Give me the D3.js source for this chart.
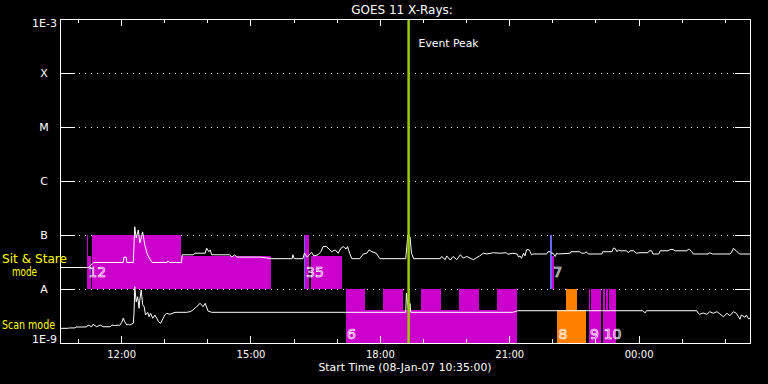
<!DOCTYPE html>
<html>
<head>
<meta charset="utf-8">
<script src="https://cdn.jsdelivr.net/npm/d3@7"></script>
<style>
  html, body { margin: 0; padding: 0; background: #000; }
  svg { display: block; }
  text { font-family: "DejaVu Sans", sans-serif; }
</style>
</head>
<body>
<svg id="chart" width="768" height="384"></svg>
<script>
// GOES 11 light curve, sit & stare vs scan mode
const chartTitle = 'GOES 11 X-Rays:';
const startLabel = 'Start Time (08-Jan-07 10:35:00)';
const timeStart = '10:35';
const timeEnd = '02:35';
const eventPeak = '18:40';

const levelNames = ['1E-3', 'X', 'M', 'C', 'B', 'A', '1E-9'];
const levelValues = [1e-3, 1e-4, 1e-5, 1e-6, 1e-7, 1e-8, 1e-9];

// lower edge of each band (flux)
const sitStareBase = 1e-8;
const scanBase = 1e-9;

// [time, flux]
const sitStareFlux = [
  ['10:35', 2.5e-8], ['11:14', 2.5e-8], ['11:15', 2.5e-8], ['11:22', 3.1e-8], ['12:03', 3.1e-8],
  ['12:04', 3.9e-8], ['12:07', 3.9e-8], ['12:08', 3.1e-8], ['12:17', 3.1e-8], ['12:19', 1.42e-7],
  ['12:21', 8.8e-8], ['12:24', 1.24e-7], ['12:26', 7.1e-8], ['12:28', 8.8e-8], ['12:30', 1.14e-7],
  ['12:33', 6.5e-8], ['12:36', 4.6e-8], ['12:39', 3.75e-8], ['12:43', 3.1e-8], ['13:04', 3.1e-8],
  ['13:05', 3.3e-8], ['13:07', 3.1e-8], ['13:24', 3.1e-8], ['13:25', 4.3e-8], ['13:40', 4.3e-8],
  ['13:43', 4.6e-8], ['13:57', 4.6e-8], ['13:59', 5.7e-8], ['14:02', 4.9e-8], ['14:04', 5.3e-8],
  ['14:06', 4.3e-8], ['14:31', 4.3e-8], ['14:34', 3.9e-8], ['14:38', 4.3e-8], ['14:41', 3.9e-8],
  ['15:13', 3.9e-8], ['15:30', 3.64e-8], ['15:58', 3.64e-8], ['15:59', 4.3e-8], ['16:01', 3.64e-8],
  ['16:13', 3.64e-8], ['16:15', 4.6e-8], ['16:19', 3.9e-8], ['16:25', 4.8e-8], ['16:28', 4.1e-8],
  ['16:34', 4.3e-8], ['16:38', 4.9e-8], ['16:41', 6.1e-8], ['16:46', 6.1e-8], ['16:49', 5.5e-8],
  ['16:53', 4.9e-8], ['16:58', 5.3e-8], ['17:02', 4.6e-8], ['17:06', 5.7e-8], ['17:09', 6.1e-8],
  ['17:13', 5.5e-8], ['17:15', 6.1e-8], ['17:18', 4.6e-8], ['17:21', 3.64e-8], ['17:32', 3.64e-8],
  ['17:37', 4.45e-8], ['17:42', 4.6e-8], ['17:45', 5.3e-8], ['17:49', 4.9e-8], ['17:55', 4.6e-8],
  ['18:00', 3.64e-8], ['18:36', 3.64e-8], ['18:39', 1.0e-7], ['18:42', 9.3e-8], ['18:44', 4.6e-8],
  ['18:47', 3.64e-8], ['19:24', 3.64e-8], ['19:26', 4.0e-8], ['19:31', 3.5e-8], ['19:33', 4.1e-8],
  ['19:38', 3.44e-8], ['19:42', 4.0e-8], ['19:47', 3.5e-8], ['19:52', 4.3e-8], ['19:56', 3.75e-8],
  ['20:01', 4.0e-8], ['20:10', 3.5e-8], ['20:19', 4.1e-8], ['20:24', 4.6e-8], ['20:29', 4.45e-8],
  ['20:38', 4.7e-8], ['20:47', 4.6e-8], ['20:56', 4.7e-8], ['20:58', 4.4e-8], ['21:05', 4.6e-8],
  ['21:11', 4.45e-8], ['21:13', 3.9e-8], ['21:15', 4.1e-8], ['21:17', 3.7e-8], ['21:20', 4.6e-8],
  ['21:22', 4.1e-8], ['21:24', 5.3e-8], ['21:27', 5.4e-8], ['21:29', 4.9e-8], ['21:31', 4.3e-8],
  ['21:33', 4.45e-8], ['21:52', 4.45e-8], ['21:54', 4.9e-8], ['21:57', 4.9e-8], ['21:59', 4.6e-8],
  ['22:01', 4.6e-8], ['22:04', 4.0e-8], ['22:06', 4.6e-8], ['22:08', 4.45e-8], ['22:25', 4.6e-8],
  ['22:26', 4.9e-8], ['22:38', 4.9e-8], ['22:41', 4.6e-8], ['22:45', 4.6e-8], ['22:47', 4.9e-8],
  ['22:50', 4.45e-8], ['23:09', 4.45e-8], ['23:10', 4.9e-8], ['23:23', 4.9e-8], ['23:25', 5.7e-8],
  ['23:27', 5.7e-8], ['23:30', 4.9e-8], ['23:32', 5.3e-8], ['23:34', 5.1e-8], ['23:43', 5.1e-8],
  ['23:46', 4.7e-8], ['23:48', 5.1e-8], ['23:53', 5.1e-8], ['23:57', 4.6e-8], ['00:02', 4.7e-8],
  ['00:13', 4.7e-8], ['00:15', 5.1e-8], ['00:18', 5.1e-8], ['00:20', 4.45e-8], ['00:28', 4.45e-8],
  ['00:30', 5.1e-8], ['00:41', 5.1e-8], ['00:44', 5.4e-8], ['00:48', 5.4e-8], ['00:51', 5.1e-8],
  ['01:07', 5.1e-8], ['01:09', 5.4e-8], ['01:11', 5.4e-8], ['01:14', 4.9e-8], ['01:16', 4.45e-8],
  ['01:37', 4.45e-8], ['01:38', 4.7e-8], ['01:40', 4.6e-8], ['01:43', 4.45e-8], ['02:07', 4.45e-8],
  ['02:09', 4.7e-8], ['02:12', 5.7e-8], ['02:14', 5.3e-8], ['02:16', 5.1e-8], ['02:19', 4.6e-8],
  ['02:21', 4.45e-8], ['02:35', 4.45e-8]
];

const scanFlux = [
  ['10:35', 1.87e-9], ['10:46', 1.87e-9], ['10:48', 1.9e-9], ['10:56', 1.9e-9], ['10:57', 1.98e-9],
  ['11:12', 1.98e-9], ['11:14', 2.15e-9], ['11:19', 2.0e-9], ['11:21', 2.22e-9], ['11:26', 2.0e-9],
  ['11:31', 2.15e-9], ['11:35', 2.0e-9], ['11:45', 2.0e-9], ['11:47', 2.15e-9], ['11:52', 2.1e-9],
  ['11:56', 2.15e-9], ['11:58', 2.1e-9], ['12:01', 2.42e-9], ['12:03', 2.87e-9], ['12:05', 2.48e-9],
  ['12:08', 2.15e-9], ['12:10', 2.22e-9], ['12:12', 2.15e-9], ['12:17', 2.32e-9], ['12:18', 3.55e-9],
  ['12:19', 1.1e-8], ['12:21', 5.8e-9], ['12:23', 7.2e-9], ['12:25', 4.4e-9], ['12:26', 6.25e-9],
  ['12:28', 9.6e-9], ['12:30', 5.1e-9], ['12:32', 4.7e-9], ['12:34', 3.3e-9], ['12:37', 3.7e-9],
  ['12:39', 3.07e-9], ['12:41', 3.55e-9], ['12:44', 2.87e-9], ['12:47', 3.3e-9], ['12:50', 2.8e-9],
  ['12:52', 2.48e-9], ['12:55', 2.32e-9], ['12:58', 2.8e-9], ['13:01', 3.3e-9], ['13:03', 3.55e-9],
  ['13:08', 3.4e-9], ['13:15', 3.7e-9], ['13:31', 3.7e-9], ['13:36', 3.8e-9], ['13:40', 4.08e-9],
  ['13:45', 4.7e-9], ['13:50', 5.43e-9], ['13:54', 4.7e-9], ['13:57', 5.43e-9], ['14:01', 3.9e-9],
  ['14:06', 3.7e-9], ['18:36', 3.7e-9], ['18:37', 8.4e-9], ['18:40', 3.7e-9], ['18:42', 5.4e-9],
  ['18:43', 3.7e-9], ['21:05', 3.7e-9], ['21:12', 3.96e-9], ['00:06', 3.96e-9], ['00:09', 3.6e-9],
  ['00:11', 3.96e-9], ['01:21', 3.96e-9], ['01:23', 3.55e-9], ['01:25', 3.4e-9], ['01:30', 3.6e-9],
  ['01:35', 3.4e-9], ['01:39', 3.8e-9], ['01:44', 3.55e-9], ['01:49', 3.8e-9], ['01:53', 3.45e-9],
  ['01:58', 3.07e-9], ['02:03', 3.55e-9], ['02:07', 3.2e-9], ['02:12', 3.8e-9], ['02:16', 3.55e-9],
  ['02:19', 3.07e-9], ['02:21', 2.75e-9], ['02:23', 3.3e-9], ['02:28', 3.0e-9], ['02:30', 3.3e-9],
  ['02:33', 2.8e-9], ['02:35', 2.87e-9]
];

// observation blocks: [start, end, extent, kind]
const sitStareObs = [
  ['11:13', '11:14', 'full', 'obs'], ['11:13', '11:18', 'part', 'obs'],
  ['11:20', '13:24', 'full', 'obs'], ['11:20', '15:29', 'part', 'obs'],
  ['16:16', '16:22', 'full', 'obs'], ['16:24', '17:07', 'part', 'obs'],
  ['22:00', '22:02', 'part', 'obs'],
  ['16:14', '16:16', 'full', 'cal'], ['21:57', '22:00', 'full', 'cal']
];
const scanObs = [
  ['17:13', '21:11', 'part', 'obs'], ['17:13', '17:39', 'full', 'obs'],
  ['18:04', '18:32', 'full', 'obs'], ['18:57', '19:25', 'full', 'obs'],
  ['19:50', '20:18', 'full', 'obs'], ['20:43', '21:11', 'full', 'obs'],
  ['22:07', '22:47', 'part', 'alt'], ['22:19', '22:34', 'full', 'alt'],
  ['22:51', '23:08', 'part', 'obs'], ['22:51', '22:53', 'full', 'obs'], ['22:54', '23:07', 'full', 'obs'],
  ['23:10', '23:29', 'part', 'obs'], ['23:10', '23:13', 'full', 'obs'], ['23:14', '23:18', 'full', 'obs'],
  ['23:19', '23:24', 'full', 'obs'], ['23:25', '23:29', 'full', 'obs']
];

// [label, time]
const sitStareLabels = [['1', '11:13'], ['2', '11:20'], ['3', '16:16'], ['5', '16:24'], ['7', '22:00']];
const scanLabels = [['6', '17:13'], ['8', '22:07'], ['9', '22:51'], ['10', '23:10']];

const kindColor = { obs: '#cc00cc', cal: '#6464ff', alt: '#ff8000' };
const extentDecades = { full: 1, part: 0.61 };

function parseT(s) {
  const [h, m] = s.split(':').map(Number);
  // anything before the start hour is on the next day
  return new Date(2007, 0, h < 10 ? 9 : 8, h, m);
}

const svg = d3.select('#chart');
svg.append('rect').attr('width', 768).attr('height', 384).attr('fill', '#000');

const x = d3.scaleTime().domain([parseT(timeStart), parseT(timeEnd)]).range([60, 750]);
const y = d3.scaleLog().domain([1e-9, 1e-3]).range([343, 19]);

// grid lines at the class boundaries
const grid = svg.append('g').attr('shape-rendering', 'crispEdges');
levelValues.slice(1, -1).forEach(v => {
  const yy = Math.round(y(v)) + 0.5;
  grid.append('line').attr('x1', 60).attr('x2', 75).attr('y1', yy).attr('y2', yy)
    .attr('stroke', '#fff');
  grid.append('line').attr('x1', 735).attr('x2', 750).attr('y1', yy).attr('y2', yy)
    .attr('stroke', '#fff');
  grid.append('line').attr('x1', 79).attr('x2', 735).attr('y1', yy).attr('y2', yy)
    .attr('stroke', '#fff').attr('stroke-dasharray', '1,5');
});

function drawBlocks(obs, base) {
  svg.append('g').attr('shape-rendering', 'crispEdges')
    .selectAll('rect')
    .data(obs)
    .join('rect')
    .attr('x', d => x(parseT(d[0])))
    .attr('width', d => x(parseT(d[1])) - x(parseT(d[0])))
    .attr('y', d => y(base * Math.pow(10, extentDecades[d[2]])))
    .attr('height', d => y(base) - y(base * Math.pow(10, extentDecades[d[2]])))
    .attr('fill', d => kindColor[d[3]]);
}
drawBlocks(sitStareObs, sitStareBase);
drawBlocks(scanObs, scanBase);

const line = d3.line()
  .x(d => x(parseT(d[0])))
  .y(d => y(d[1]));

[sitStareFlux, scanFlux].forEach(series => {
  svg.append('path')
    .datum(series)
    .attr('d', line)
    .attr('fill', 'none')
    .attr('stroke', '#fff')
    .attr('stroke-width', 1);
});

// event peak marker
svg.append('line')
  .attr('x1', x(parseT(eventPeak))).attr('x2', x(parseT(eventPeak)))
  .attr('y1', 19).attr('y2', 343)
  .attr('stroke', '#99cc00').attr('stroke-width', 2.5);
svg.append('text')
  .attr('x', x(parseT(eventPeak)) + 10).attr('y', 47)
  .attr('fill', '#fff').attr('font-size', 11)
  .attr('textLength', 60).attr('lengthAdjust', 'spacingAndGlyphs')
  .text('Event Peak');

// observation numbers; nudge right when two would collide
function drawLabels(labels, baselineY) {
  let prevEnd = -Infinity;
  labels.forEach(d => {
    const t = svg.append('text')
      .attr('y', baselineY)
      .attr('font-size', 14)
      .attr('fill', 'none')
      .attr('stroke', '#fff')
      .attr('stroke-width', 0.7)
      .text(d[0]);
    const x0 = Math.max(x(parseT(d[1])) + 1, prevEnd);
    t.attr('x', x0);
    prevEnd = x0 + t.node().getComputedTextLength();
  });
}
drawLabels(sitStareLabels, y(sitStareBase) - 12);
drawLabels(scanLabels, y(scanBase) - 4.5);

// frame
svg.append('rect')
  .attr('x', 60.5).attr('y', 19.5).attr('width', 690).attr('height', 324)
  .attr('fill', 'none').attr('stroke', '#fff').attr('shape-rendering', 'crispEdges');

// time ticks, top and bottom
function timeAxis(axisFn, ty, every, size, labelled) {
  const g = svg.append('g')
    .attr('transform', `translate(0,${ty})`)
    .call(axisFn(x).ticks(d3.timeHour.every(every)).tickSize(size).tickPadding(8)
      .tickFormat(labelled ? d3.timeFormat('%H:%M') : ''));
  g.select('.domain').remove();
  g.selectAll('line').attr('stroke', '#fff').attr('shape-rendering', 'crispEdges');
  g.selectAll('text').attr('fill', '#fff').attr('font-size', 10)
    .attr('font-family', '"DejaVu Sans", sans-serif');
  return g;
}
timeAxis(d3.axisBottom, 343, 1, -4, false);
timeAxis(d3.axisBottom, 343, 3, -7, true);
timeAxis(d3.axisTop, 19, 1, -4, false).selectAll('text').remove();
timeAxis(d3.axisTop, 19, 3, -7, false).selectAll('text').remove();

// y labels
levelNames.forEach((name, i) => {
  const yy = y(levelValues[i]);
  const t = svg.append('text').attr('fill', '#fff').attr('font-size', 11).text(name);
  if (i === 0) {
    t.attr('x', 57).attr('y', yy + 8).attr('text-anchor', 'end');
  } else if (i === levelNames.length - 1) {
    t.attr('x', 57).attr('y', yy).attr('text-anchor', 'end');
  } else {
    t.attr('x', 44).attr('y', yy + 4).attr('text-anchor', 'middle');
  }
});

// mode labels
svg.append('text').attr('x', 2).attr('y', 262.5).attr('fill', '#ffff00').attr('font-size', 12)
  .attr('textLength', 65).attr('lengthAdjust', 'spacingAndGlyphs').text('Sit & Stare');
svg.append('text').attr('x', 12).attr('y', 275.5).attr('fill', '#ffff00').attr('font-size', 12)
  .attr('textLength', 25).attr('lengthAdjust', 'spacingAndGlyphs').text('mode');
svg.append('text').attr('x', 2).attr('y', 328.5).attr('fill', '#ffff00').attr('font-size', 12)
  .attr('textLength', 53).attr('lengthAdjust', 'spacingAndGlyphs').text('Scan mode');

// title and x label
svg.append('text').attr('x', 402).attr('y', 14).attr('text-anchor', 'middle')
  .attr('fill', '#fff').attr('font-size', 12).text(chartTitle);
svg.append('text').attr('x', 405).attr('y', 371).attr('text-anchor', 'middle')
  .attr('fill', '#fff').attr('font-size', 11)
  .attr('textLength', 173).attr('lengthAdjust', 'spacingAndGlyphs').text(startLabel);
</script>
</body>
</html>
